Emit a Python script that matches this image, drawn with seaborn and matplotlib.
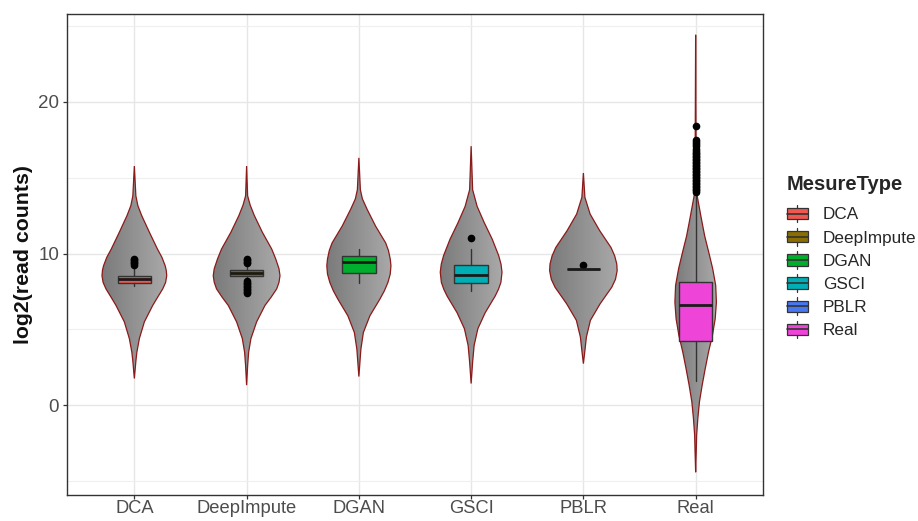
import numpy as np
import matplotlib
matplotlib.use("Agg")
import matplotlib.pyplot as plt
import seaborn as sns
from matplotlib.patches import Polygon, Rectangle, Patch
from matplotlib.lines import Line2D
from matplotlib.legend_handler import HandlerBase
from matplotlib.colors import LinearSegmentedColormap

methods = ["DCA", "DeepImpute", "DGAN", "GSCI", "PBLR", "Real"]
box_colors = ["#F0574F", "#8A6E00", "#00AE2E", "#00AFB5", "#4877F2", "#EE44D8"]

# violin outlines: log2 level and half-width (px, 112 px per category)
dca_y = [1.77, 2.9, 3.5, 4.4, 5.5, 6.58, 7.13, 7.67, 8.1, 8.54, 8.9, 9.2, 9.75, 10.3, 11.4, 12.5, 13.15, 13.8, 15.76]
dca_w = [0, 1.5, 2.5, 5, 10, 18.3, 23.3, 28.3, 31.2, 32.3, 31.8, 30.7, 27.5, 23, 15, 7.3, 3.5, 1.5, 0]
deep_y = [1.33, 2.6, 3.5, 4.4, 5.5, 6.58, 7.13, 7.67, 8.1, 8.54, 9.0, 9.65, 10.3, 11.4, 12.5, 13.2, 13.8, 15.76]
deep_w = [0, 1, 2, 4.3, 10, 18.3, 24.5, 30, 32.3, 33.3, 32.3, 29, 25, 15.7, 7.7, 3.5, 1, 0]
dgan_y = [1.9, 2.8, 3.7, 4.8, 5.9, 7.0, 7.55, 8.1, 8.65, 9.2, 9.64, 10.2, 10.7, 11.8, 12.9, 13.6, 14.2, 16.3]
dgan_w = [0, 1, 2, 4.5, 11, 21, 25.5, 29, 31.3, 32, 31.3, 29.5, 26.7, 16.7, 8.3, 3.5, 1.5, 0]
gsci_y = [1.44, 2.86, 3.95, 5.05, 6.1, 7.2, 7.65, 8.1, 8.77, 9.3, 9.86, 10.95, 12.0, 13.1, 14.2, 17.07]
gsci_w = [0, 1.5, 3, 6.7, 14, 24, 27.3, 29.7, 30.8, 29.8, 27.5, 21, 13.3, 6, 1.5, 0]
pblr_y = [2.75, 3.6, 4.5, 5.6, 6.69, 7.78, 8.3, 8.87, 9.31, 9.85, 10.4, 11.5, 12.6, 13.7, 15.3]
pblr_w = [0, 1.5, 3, 7, 16.7, 28.3, 32, 33.7, 33.3, 31.2, 27.5, 16.3, 6.7, 1.5, 0]
real_y = [-4.4, -3.0, -1.95, -0.85, 0.24, 1.33, 2.4, 3.5, 4.6, 5.7, 6.8, 7.9, 9.0, 10.1, 11.16, 12.26, 13.8, 14.5, 24.4]
real_w = [0, 0.6, 1, 2.2, 3.8, 6.5, 9.5, 12.8, 16.7, 19.5, 20.7, 20, 17, 13, 9, 5.8, 1.5, 0.6, 0]

# box summaries
whislo = [7.89, 8.40, 8.07, 7.52, 8.98, 1.60]
q1 = [8.07, 8.54, 8.72, 8.07, 8.98, 4.22]
med = [8.30, 8.74, 9.47, 8.59, 8.98, 6.58]
q3 = [8.54, 8.94, 9.82, 9.25, 8.98, 8.10]
whishi = [9.10, 9.10, 10.30, 10.30, 8.98, 13.90]
dca_out = [9.26, 9.36, 9.46, 9.56, 9.66]
deep_out = [9.36, 9.46, 9.56, 9.66, 8.17, 8.07, 7.97, 7.87, 7.77, 7.67, 7.57, 7.47, 7.40]
dgan_out = []
gsci_out = [11.0]
pblr_out = [9.27]
real_out = [14.05, 14.15, 14.25, 14.35, 14.45, 14.55, 14.65, 14.75, 14.85, 14.95, 15.05, 15.15,
            15.25, 15.35, 15.45, 15.55, 15.65, 15.75, 15.85, 15.95, 16.05, 16.15, 16.25, 16.35,
            16.45, 16.55, 16.65, 16.75, 16.9, 17.05, 17.2, 17.35, 17.5, 18.38]

profiles = [(dca_y, dca_w), (deep_y, deep_w), (dgan_y, dgan_w),
            (gsci_y, gsci_w), (pblr_y, pblr_w), (real_y, real_w)]
outliers = [dca_out, deep_out, dgan_out, gsci_out, pblr_out, real_out]

sns.set_theme(style="whitegrid", rc={
    "axes.edgecolor": "#333333", "axes.linewidth": 1.0,
    "grid.color": "#e6e6e6", "grid.linewidth": 1.0,
    "xtick.bottom": True, "ytick.left": True,
    "xtick.color": "#333333", "ytick.color": "#333333",
    "xtick.labelcolor": "#4d4d4d", "ytick.labelcolor": "#4d4d4d",
    "xtick.major.size": 2.6, "ytick.major.size": 3.2,
    "xtick.major.width": 0.9, "ytick.major.width": 0.9,
    "xtick.major.pad": 1.0, "ytick.major.pad": 2.5,
})
plt.rcParams["font.family"] = ["Liberation Sans", "DejaVu Sans"]

fig = plt.figure(figsize=(9.18, 5.21), dpi=100)
ax = fig.add_axes([67 / 918, 26 / 521, 696 / 918, 481 / 521])

# violins: gray horizontal gradient clipped to the outline
shade = LinearSegmentedColormap.from_list("shade", ["#7b7b7b", "#a9a9a9"])
ramp = np.linspace(0, 1, 64).reshape(1, -1)
for i, (ys, ws) in enumerate(profiles):
    ys = np.asarray(ys)
    hw = np.asarray(ws) / 112.0
    xs = np.concatenate([i - hw, (i + hw)[::-1]])
    yy = np.concatenate([ys, ys[::-1]])
    poly = Polygon(np.column_stack([xs, yy]), closed=True, facecolor="none",
                   edgecolor="#8b1a1a", lw=0.9, zorder=3)
    ax.add_patch(poly)
    im = ax.imshow(ramp, extent=[i - hw.max(), i + hw.max(), ys.min(), ys.max()],
                   aspect="auto", cmap=shade, interpolation="bilinear", zorder=2)
    im.set_clip_path(poly)

stats = [dict(label=m, whislo=whislo[i], q1=q1[i], med=med[i], q3=q3[i],
              whishi=whishi[i], fliers=outliers[i]) for i, m in enumerate(methods)]
bp = ax.bxp(stats, positions=range(len(methods)), widths=0.3, patch_artist=True,
            showcaps=False, manage_ticks=False, zorder=4,
            boxprops=dict(edgecolor="#333333", lw=1.0),
            medianprops=dict(color="#1a1a1a", lw=2.0),
            whiskerprops=dict(color="#333333", lw=1.0),
            flierprops=dict(marker="o", markerfacecolor="black", markeredgecolor="black",
                            markersize=4.5, lw=0))
for patch, c in zip(bp["boxes"], box_colors):
    patch.set_facecolor(c)

ax.set_xticks(range(len(methods)), methods, fontsize=13.2)
ax.set_yticks([0, 10, 20])
ax.set_yticks([-5, 5, 15, 25], minor=True)
ax.tick_params(axis="y", labelsize=13.5)
ax.tick_params(which="minor", length=0)
ax.grid(which="minor", axis="y", color="#efefef", lw=0.8)
ax.set_xlim(-0.6, 5.6)
ax.set_ylim(-5.9, 25.77)
ax.set_xlabel("")
ax.set_ylabel("log2(read counts)", fontsize=15.3, fontweight="bold", color="#111111", labelpad=4)
ax.set_axisbelow(True)


class BoxKey(HandlerBase):
    def create_artists(self, legend, orig_handle, xdescent, ydescent, width, height, fontsize, trans):
        x0, y0 = -xdescent, -ydescent
        cx = x0 + width / 2
        box = Rectangle((x0, y0 + height * 0.18), width, height * 0.64,
                        facecolor=orig_handle.get_facecolor(), edgecolor="#333333", lw=0.9,
                        transform=trans)
        mid = Line2D([x0, x0 + width], [y0 + height / 2] * 2, color="#333333", lw=1.2, transform=trans)
        top = Line2D([cx, cx], [y0 + height * 0.82, y0 + height], color="#333333", lw=0.9, transform=trans)
        bot = Line2D([cx, cx], [y0, y0 + height * 0.18], color="#333333", lw=0.9, transform=trans)
        return [box, mid, top, bot]


handles = [Patch(facecolor=c) for c in box_colors]
leg = fig.legend(handles, methods, title="MesureType", loc="upper left",
                 bbox_to_anchor=(787 / 918, 1 - 175 / 521), frameon=False,
                 fontsize=12.3, title_fontproperties={"size": 14.5, "weight": "bold"},
                 handler_map={Patch: BoxKey()}, handlelength=1.2, handleheight=1.2,
                 handletextpad=0.9, labelspacing=0.33, borderpad=0, borderaxespad=0,
                 alignment="left")
leg._legend_box.sep = 7.8

fig.savefig("out.png", dpi=100)
